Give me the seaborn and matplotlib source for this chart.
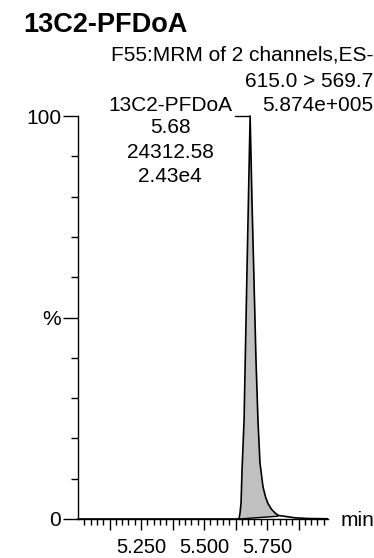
import numpy as np
import matplotlib
matplotlib.use("Agg")
import matplotlib.pyplot as plt
import seaborn as sns
import pandas as pd

# chromatogram trace (time in min, intensity in %)
time_min = [5.000, 5.300, 5.639, 5.643, 5.647, 5.651, 5.659, 5.671, 5.683,
            5.690, 5.698, 5.706, 5.714, 5.722, 5.734, 5.744, 5.754, 5.768,
            5.782, 5.794, 5.861, 5.913, 5.990]
intensity = [0.0, 0.0, 0.0, 1.5, 4.0, 12.2, 24.6, 63.0, 100.0,
             80.0, 60.0, 40.0, 24.6, 14.0, 8.0, 5.5, 3.8, 2.4,
             1.5, 0.9, 0.3, 0.12, 0.05]

# integration baseline (start, end)
base_t = [5.639, 5.794]
base_y = [0.0, 0.7]

peak_rt = 5.68
peak_area = "24312.58"
peak_height = "2.43e4"
compound = "13C2-PFDoA"

xtick_major = [5.125, 5.250, 5.375, 5.500, 5.625, 5.750, 5.875]
xtick_labels = ["", "5.250", "", "5.500", "", "5.750", ""]

df = pd.DataFrame({"time": time_min, "intensity": intensity})

sns.set_theme(style="white")
plt.rcParams["font.family"] = ["Liberation Sans", "DejaVu Sans"]
plt.rcParams["text.color"] = "black"
plt.rcParams["xtick.color"] = "black"
plt.rcParams["ytick.color"] = "black"

fig = plt.figure(figsize=(3.74, 5.58), dpi=100)
W, H = 374, 558
ax = fig.add_axes([78 / W, 39 / H, 250 / W, 403 / H])

# fill between the trace and the integration baseline
t = np.array(time_min)
y = np.array(intensity)
m = (t >= base_t[0]) & (t <= base_t[1])
bl = np.interp(t[m], base_t, base_y)
ax.fill_between(t[m], bl, y[m], color="#c0c0c0", lw=0)
ax.plot(base_t, base_y, color="black", lw=1)

sns.lineplot(data=df, x="time", y="intensity", color="black", lw=1.2,
             ax=ax, clip_on=False)

# peak label leader
ax.plot([5.623, peak_rt], [100, 100], color="black", lw=1, clip_on=False)

ax.set_xlim(5.0, 5.992)
ax.set_ylim(0, 100)
ax.set_xlabel("")
ax.set_ylabel("")

for s in ["top", "right"]:
    ax.spines[s].set_visible(False)
for s in ["left", "bottom"]:
    ax.spines[s].set_color("black")
    ax.spines[s].set_linewidth(1)

ax.set_xticks(xtick_major)
ax.set_xticklabels(xtick_labels)
ax.set_xticks(np.arange(5.025, 5.99, 0.025), minor=True)
ax.set_yticks([0, 50, 100])
ax.set_yticklabels(["0", "%", "100"])
ax.set_yticks(np.arange(10, 100, 10), minor=True)

ax.tick_params(axis="x", which="major", direction="out", length=8, width=1,
               labelsize=14.5, pad=6, bottom=True)
ax.tick_params(axis="x", which="minor", direction="out", length=4, width=1,
               bottom=True)
ax.tick_params(axis="y", which="major", direction="out", length=11, width=1,
               labelsize=15, pad=1, left=True)
ax.tick_params(axis="y", which="minor", direction="out", length=5, width=1,
               left=True)

fs = 15
fig.text(23 / W, 1 - 25 / H, compound, fontsize=19.5, fontweight="bold",
         va="center", ha="left")
fig.text(373 / W, 1 - 55 / H, "F55:MRM of 2 channels,ES-", fontsize=fs,
         va="center", ha="right")
fig.text(373 / W, 1 - 82 / H, "615.0 > 569.7", fontsize=fs,
         va="center", ha="right")
fig.text(373 / W, 1 - 105 / H, "5.874e+005", fontsize=fs,
         va="center", ha="right")

cx = 170 / W
fig.text(cx, 1 - 105 / H, compound, fontsize=fs, va="center", ha="center")
fig.text(cx, 1 - 128 / H, f"{peak_rt:.2f}", fontsize=fs, va="center", ha="center")
fig.text(cx, 1 - 152 / H, peak_area, fontsize=fs, va="center", ha="center")
fig.text(cx, 1 - 177 / H, peak_height, fontsize=fs, va="center", ha="center")

fig.text(341 / W, 1 - 520 / H, "min", fontsize=fs, va="center", ha="left")

fig.savefig("out.png", dpi=100)
